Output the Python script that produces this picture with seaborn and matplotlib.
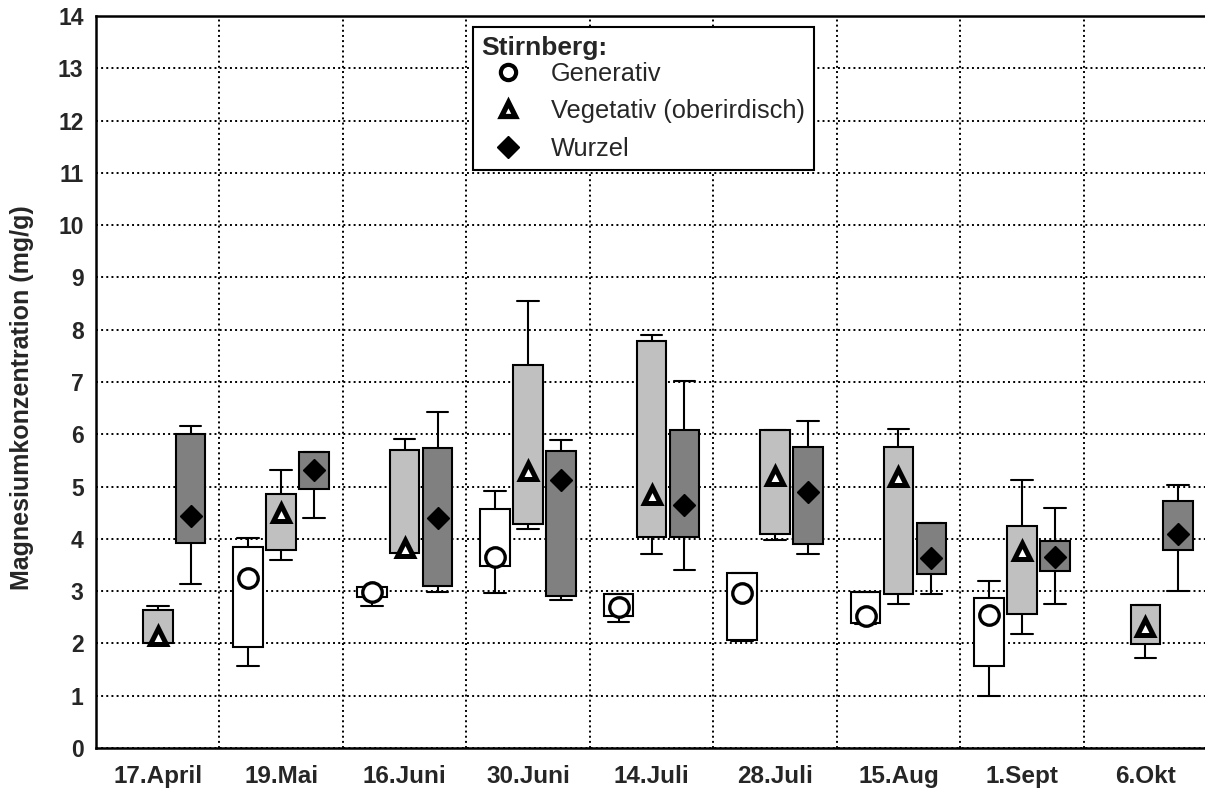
import numpy as np
import pandas as pd
import seaborn as sns
import matplotlib
matplotlib.use("Agg")
from matplotlib import pyplot as plt
from matplotlib.lines import Line2D
from matplotlib.ticker import FixedLocator, MultipleLocator

# Sampling dates (x categories)
dates = ["17.April", "19.Mai", "16.Juni", "30.Juni", "14.Juli",
         "28.Juli", "15.Aug", "1.Sept", "6.Okt"]
parts = ["Generativ", "Vegetativ (oberirdisch)", "Wurzel"]

# Box statistics (mg/g): whisker low, box low, marker, box high, whisker high
gen_lo = [np.nan, 1.56, 2.71, 2.96, 2.41, 2.05, 2.38, 1.00, np.nan]
gen_q1 = [np.nan, 1.94, 2.89, 3.48, 2.53, 2.07, 2.40, 1.57, np.nan]
gen_med = [np.nan, 3.25, 2.99, 3.66, 2.70, 2.96, 2.53, 2.54, np.nan]
gen_q3 = [np.nan, 3.85, 3.08, 4.57, 2.95, 3.34, 2.98, 2.87, np.nan]
gen_hi = [np.nan, 4.01, 3.08, 4.91, 2.95, 3.34, 2.98, 3.20, np.nan]

veg_lo = [2.00, 3.59, 3.73, 4.19, 3.71, 3.98, 2.75, 2.18, 1.72]
veg_q1 = [2.00, 3.78, 3.73, 4.28, 4.03, 4.09, 2.94, 2.56, 1.99]
veg_med = [2.15, 4.49, 3.82, 5.29, 4.83, 5.21, 5.19, 3.76, 2.32]
veg_q3 = [2.64, 4.85, 5.69, 7.32, 7.79, 6.09, 5.76, 4.24, 2.74]
veg_hi = [2.71, 5.31, 5.91, 8.55, 7.90, 6.09, 6.10, 5.13, 2.74]

wur_lo = [3.13, 4.39, 2.98, 2.83, 3.40, 3.71, 2.94, 2.75, 3.01]
wur_q1 = [3.93, 4.96, 3.09, 2.91, 4.03, 3.90, 3.32, 3.39, 3.78]
wur_med = [4.43, 5.31, 4.39, 5.13, 4.64, 4.89, 3.63, 3.66, 4.09]
wur_q3 = [6.00, 5.66, 5.73, 5.68, 6.09, 5.76, 4.31, 3.96, 4.73]
wur_hi = [6.16, 5.66, 6.42, 5.90, 7.01, 6.26, 4.31, 4.59, 5.03]

stats = {
    "Generativ": (gen_lo, gen_q1, gen_med, gen_q3, gen_hi),
    "Vegetativ (oberirdisch)": (veg_lo, veg_q1, veg_med, veg_q3, veg_hi),
    "Wurzel": (wur_lo, wur_q1, wur_med, wur_q3, wur_hi),
}

# 5 values per box -> quartiles of these are exactly the box edges / median
rows = []
for part, cols in stats.items():
    for i, d in enumerate(dates):
        for arr in cols:
            rows.append((d, part, arr[i]))
df = pd.DataFrame(rows, columns=["Datum", "Teil", "Mg"])

box_colors = {"Generativ": "white", "Vegetativ (oberirdisch)": "#c0c0c0", "Wurzel": "#808080"}
marker_faces = {"Generativ": "white", "Vegetativ (oberirdisch)": "white", "Wurzel": "black"}

sns.set_style("white")
plt.rcParams["font.family"] = ["Liberation Sans", "DejaVu Sans"]

fig = plt.figure(figsize=(12.05, 7.94), dpi=100)
ax = fig.add_axes([0.0797, 0.0579, 0.922, 0.922])

sns.boxplot(data=df, x="Datum", y="Mg", hue="Teil", order=dates, hue_order=parts,
            palette=box_colors, saturation=1, width=0.8, gap=0.1, whis=(0, 100),
            showfliers=False, linecolor="black", linewidth=1.5, capwidths=0.175,
            medianprops={"linewidth": 0}, legend=False, ax=ax)

n0 = len(ax.lines)
sns.pointplot(data=df, x="Datum", y="Mg", hue="Teil", order=dates, hue_order=parts,
              estimator="median", errorbar=None, dodge=0.8 * 2 / 3,
              markers=["o", "^", "D"], linestyle="none", palette=marker_faces,
              markeredgecolor="black", legend=False, ax=ax)

marker_style = {"o": (14, 2.4), "^": (11, 3.6), "D": (11, 1.0)}
for line in ax.lines[n0:]:
    m = line.get_marker()
    if m in marker_style:
        ms, mew = marker_style[m]
        line.set_markersize(ms)
        line.set_markeredgewidth(mew)
        line.set_zorder(5)

ax.set_xlim(-0.5, 8.5)
ax.set_ylim(0, 14)
ax.yaxis.set_major_locator(MultipleLocator(1))
ax.xaxis.set_minor_locator(FixedLocator(np.arange(0.5, 8, 1)))
ax.set_axisbelow(True)
ax.grid(which="major", axis="y", ls=":", color="black", lw=1.4)
ax.grid(which="minor", axis="x", ls=":", color="black", lw=1.4)
ax.grid(which="major", axis="x", visible=False)

ax.tick_params(axis="x", which="major", length=0, pad=12, labelsize=17.5)
ax.tick_params(axis="x", which="minor", direction="in", length=5, width=1.5)
ax.tick_params(axis="y", direction="in", length=5, width=1.5, labelsize=16.5, pad=9)
plt.setp(ax.get_xticklabels(), fontweight="bold")
plt.setp(ax.get_yticklabels(), fontweight="bold")

ax.set_xlabel("")
ax.set_ylabel("Magnesiumkonzentration (mg/g)", fontsize=18, fontweight="bold")
ax.yaxis.set_label_coords(-0.056, 0.478)

for side in ["left", "bottom", "top", "right"]:
    ax.spines[side].set_visible(True)
    ax.spines[side].set_color("black")
    ax.spines[side].set_linewidth(1.8)

handles = [
    Line2D([], [], ls="none", marker="o", ms=11, mfc="white", mec="black", mew=3),
    Line2D([], [], ls="none", marker="^", ms=10, mfc="white", mec="black", mew=3.8),
    Line2D([], [], ls="none", marker="D", ms=11, mfc="black", mec="black", mew=1),
]
leg = ax.legend(handles, parts, title="Stirnberg:", loc="upper left",
                bbox_to_anchor=(0.339, 0.985), borderaxespad=0, frameon=True,
                fancybox=False, edgecolor="black", framealpha=1, fontsize=18.3,
                title_fontproperties={"weight": "bold", "size": 19},
                alignment="left", handlelength=2.1, handletextpad=0.64,
                labelspacing=0.53, borderpad=0.35)
leg._legend_box.sep = 1.5
leg.get_frame().set_linewidth(1.5)
leg.set_zorder(10)

fig.savefig("out.png", dpi=100)
